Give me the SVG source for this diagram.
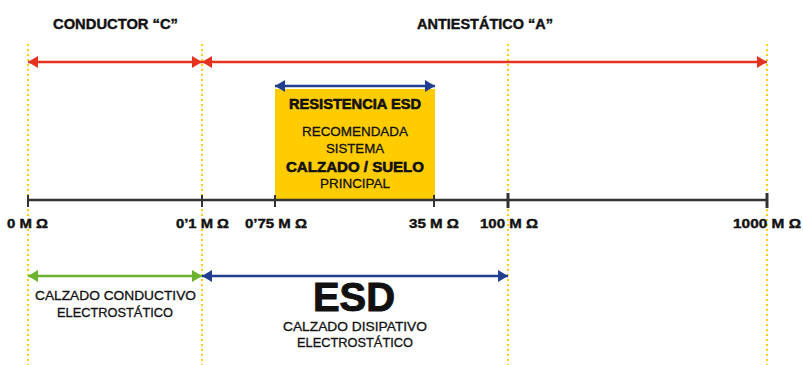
<svg xmlns="http://www.w3.org/2000/svg" width="803" height="365" viewBox="0 0 803 365">
<defs>
<style>
.t{font-family:"Liberation Sans",Arial,sans-serif;fill:#111111;stroke:#111111;stroke-width:0.3;text-anchor:middle}
.b{font-weight:700;stroke-width:0.4}
.guide{stroke:#FFD000;stroke-width:2;stroke-dasharray:2 3;fill:none}
.axis{stroke:#333333;stroke-width:2.5;fill:none}
.tick{stroke:#333333;stroke-width:2;fill:none}
.tickb{stroke:#333333;stroke-width:3;fill:none}
.red{stroke:#E3321F;stroke-width:2.5;fill:none}
.blue{stroke:#213F8F;stroke-width:2.5;fill:none}
.green{stroke:#6DB22F;stroke-width:2.5;fill:none}
</style>
<marker id="ar" markerUnits="userSpaceOnUse" markerWidth="10" markerHeight="12" refX="10" refY="6" orient="auto-start-reverse"><path d="M0,0L10,6L0,12z" fill="#E3321F"/></marker>
<marker id="ab" markerUnits="userSpaceOnUse" markerWidth="10" markerHeight="12" refX="10" refY="6" orient="auto-start-reverse"><path d="M0,0L10,6L0,12z" fill="#213F8F"/></marker>
<marker id="ag" markerUnits="userSpaceOnUse" markerWidth="10" markerHeight="12" refX="10" refY="6" orient="auto-start-reverse"><path d="M0,0L10,6L0,12z" fill="#6DB22F"/></marker>
</defs>
<rect width="803" height="365" fill="#ffffff"/>

<g id="guides">
<line class="guide" x1="28" y1="44" x2="28" y2="365"/>
<line class="guide" x1="202" y1="44" x2="202" y2="365"/>
<line class="guide" x1="508" y1="44" x2="508" y2="365"/>
<line class="guide" x1="767" y1="44" x2="767" y2="365"/>
</g>

<g id="titles">
<text class="t b" x="115.5" y="29" font-size="14" textLength="125" lengthAdjust="spacingAndGlyphs">CONDUCTOR “C”</text>
<text class="t b" x="485" y="29" font-size="14" textLength="136" lengthAdjust="spacingAndGlyphs">ANTIESTÁTICO “A”</text>
</g>

<g id="box">
<rect x="275" y="89" width="160" height="111" fill="#FFCC00"/>
<text class="t b" x="355" y="109" font-size="15" textLength="132" lengthAdjust="spacingAndGlyphs" style="stroke-width:0.6">RESISTENCIA ESD</text>
<text class="t" x="355" y="136" font-size="13" textLength="106" lengthAdjust="spacingAndGlyphs">RECOMENDADA</text>
<text class="t" x="355" y="153" font-size="13" textLength="58" lengthAdjust="spacingAndGlyphs">SISTEMA</text>
<text class="t b" x="355" y="172" font-size="15" textLength="138" lengthAdjust="spacingAndGlyphs" style="stroke-width:0.6">CALZADO / SUELO</text>
<text class="t" x="355" y="188" font-size="13" textLength="70" lengthAdjust="spacingAndGlyphs">PRINCIPAL</text>
</g>

<g id="axis">
<line class="axis" x1="28" y1="200" x2="767" y2="200"/>
<line class="tick" x1="28" y1="195" x2="28" y2="207"/>
<line class="tick" x1="202" y1="195" x2="202" y2="207"/>
<line class="tick" x1="275" y1="195" x2="275" y2="207"/>
<line class="tick" x1="434" y1="195" x2="434" y2="207"/>
<line class="tickb" x1="508" y1="193" x2="508" y2="208"/>
<line class="tickb" x1="767" y1="193" x2="767" y2="208"/>
</g>

<g id="scale-labels">
<text class="t b" x="27.5" y="228" font-size="13" textLength="41" lengthAdjust="spacingAndGlyphs">0 M Ω</text>
<text class="t b" x="202.5" y="228" font-size="13" textLength="53" lengthAdjust="spacingAndGlyphs">0’1 M Ω</text>
<text class="t b" x="276" y="228" font-size="13" textLength="62" lengthAdjust="spacingAndGlyphs">0’75 M Ω</text>
<text class="t b" x="434" y="228" font-size="13" textLength="50" lengthAdjust="spacingAndGlyphs">35 M Ω</text>
<text class="t b" x="509" y="228" font-size="13" textLength="58" lengthAdjust="spacingAndGlyphs">100 M Ω</text>
<text class="t b" x="767" y="228" font-size="13" textLength="68" lengthAdjust="spacingAndGlyphs">1000 M Ω</text>
</g>

<g id="connectors">
<line class="red" x1="28" y1="62" x2="202" y2="62" marker-start="url(#ar)" marker-end="url(#ar)"/>
<line class="red" x1="202" y1="62" x2="767" y2="62" marker-start="url(#ar)" marker-end="url(#ar)"/>
<line class="blue" x1="275" y1="86" x2="435" y2="86" marker-start="url(#ab)" marker-end="url(#ab)"/>
<line class="green" x1="28" y1="276" x2="202" y2="276" marker-start="url(#ag)" marker-end="url(#ag)"/>
<line class="blue" x1="202" y1="276" x2="508" y2="276" marker-start="url(#ab)" marker-end="url(#ab)"/>
</g>

<g id="conductive">
<text class="t" x="115.5" y="300" font-size="13" textLength="161" lengthAdjust="spacingAndGlyphs">CALZADO CONDUCTIVO</text>
<text class="t" x="115" y="317" font-size="13" textLength="116" lengthAdjust="spacingAndGlyphs">ELECTROSTÁTICO</text>
</g>

<g id="dissipative">
<text class="t b" x="354" y="311" font-size="40" textLength="82" lengthAdjust="spacingAndGlyphs" style="stroke-width:1">ESD</text>
<text class="t" x="355" y="331" font-size="13" textLength="144" lengthAdjust="spacingAndGlyphs">CALZADO DISIPATIVO</text>
<text class="t" x="355" y="347" font-size="13" textLength="116" lengthAdjust="spacingAndGlyphs">ELECTROSTÁTICO</text>
</g>
</svg>
